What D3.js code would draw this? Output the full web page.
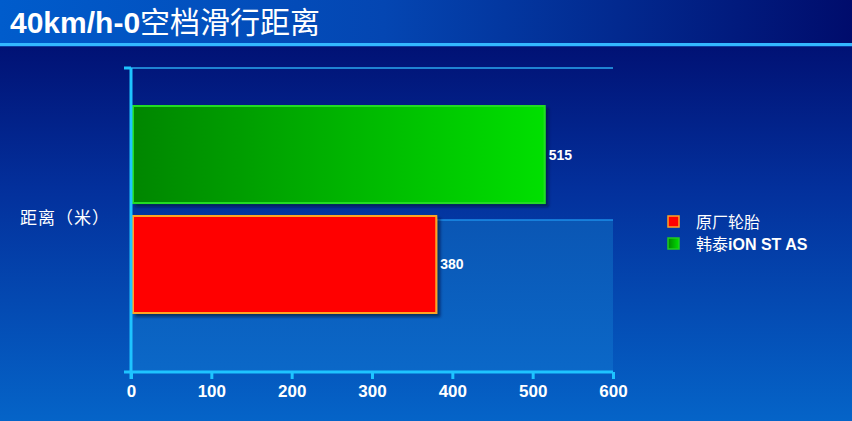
<!DOCTYPE html>
<html>
<head>
<meta charset="utf-8">
<script src="https://cdn.jsdelivr.net/npm/d3@7"></script>
<style>
  html, body { margin: 0; padding: 0; background: #000a6a; }
  svg { display: block; }
</style>
</head>
<body>
<script>
// chart data
const title = '40km/h-0'
const titleRest = '空档滑行距离'
const categories = ['距离（米）']
const seriesNames = ['韩泰iON ST AS', '原厂轮胎']
const seriesValues = [515, 380]
const xTicks = [0, 100, 200, 300, 400, 500, 600]
const legendNames = ['原厂轮胎', '韩泰']
const legendBold = ['', 'iON ST AS']

const w = 852
const h = 421
const cjk = '"Liberation Sans", "Noto Sans CJK SC", sans-serif'

const svg = d3.select('body').append('svg')
  .attr('width', w)
  .attr('height', h)

const defs = svg.append('defs')

// background gradient
const bg = defs.append('linearGradient').attr('id', 'bg')
  .attr('x1', 0).attr('y1', 0).attr('x2', 0).attr('y2', 1)
bg.append('stop').attr('offset', '0%').attr('stop-color', '#000868')
bg.append('stop').attr('offset', '45%').attr('stop-color', '#03309c')
bg.append('stop').attr('offset', '100%').attr('stop-color', '#0564c8')

// title bar gradient
const tg = defs.append('linearGradient').attr('id', 'tbar')
  .attr('x1', 0).attr('y1', 0).attr('x2', 1).attr('y2', 0)
tg.append('stop').attr('offset', '0%').attr('stop-color', '#005ccc')
tg.append('stop').attr('offset', '45%').attr('stop-color', '#0446b2')
tg.append('stop').attr('offset', '100%').attr('stop-color', '#000c6c')

// lower band of plot area
const pb = defs.append('linearGradient').attr('id', 'band')
  .attr('x1', 0).attr('y1', 0).attr('x2', 0).attr('y2', 1)
pb.append('stop').attr('offset', '0%').attr('stop-color', '#0a56b4')
pb.append('stop').attr('offset', '100%').attr('stop-color', '#0b68c8')

// green bar gradient
const gg = defs.append('linearGradient').attr('id', 'green')
  .attr('x1', 0).attr('y1', 0).attr('x2', 1).attr('y2', 0)
gg.append('stop').attr('offset', '0%').attr('stop-color', '#008600')
gg.append('stop').attr('offset', '100%').attr('stop-color', '#00e000')

const shadow = defs.append('filter').attr('id', 'shadow')
  .attr('x', '-5%').attr('y', '-5%').attr('width', '115%').attr('height', '120%')
shadow.append('feDropShadow')
  .attr('dx', 3).attr('dy', 3).attr('stdDeviation', 1.5)
  .attr('flood-color', '#000a30').attr('flood-opacity', 0.6)

svg.append('rect').attr('width', w).attr('height', h).attr('fill', 'url(#bg)')

// title bar
svg.append('rect').attr('width', w).attr('height', 43).attr('fill', 'url(#tbar)')
svg.append('rect').attr('y', 43).attr('width', w).attr('height', 3).attr('fill', '#33b8ff')
svg.append('rect').attr('y', 46).attr('width', w).attr('height', 1).attr('fill', '#0a3aa0')

const t = svg.append('text')
  .attr('x', 10).attr('y', 33)
  .attr('fill', '#ffffff')
  .style('font-family', cjk)
  .style('font-size', '30px')
t.append('tspan').attr('font-weight', 'bold').text(title)
t.append('tspan').text(titleRest)

// scales
const x = d3.scaleLinear()
  .domain([xTicks[0], xTicks[xTicks.length - 1]])
  .range([131, 613])

const yCat = d3.scaleBand()
  .domain(categories)
  .range([68, 372])

const ySeries = d3.scaleBand()
  .domain(seriesNames)
  .range([106, 313])
  .paddingInner(0.118)

const plotTop = yCat.range()[0]
const plotBottom = yCat.range()[1]
const plotMid = (plotTop + plotBottom) / 2

// plot area lower band and gridlines
svg.append('rect')
  .attr('x', x(0)).attr('y', plotMid)
  .attr('width', x(600) - x(0)).attr('height', plotBottom - plotMid)
  .attr('fill', 'url(#band)')

svg.selectAll('.grid')
  .data([plotTop, plotMid])
  .enter()
  .append('line')
  .attr('x1', x(0)).attr('x2', x(600))
  .attr('y1', d => d).attr('y2', d => d)
  .attr('stroke', (d, i) => i === 0 ? '#2aa8f0' : '#1c8ee8')
  .attr('stroke-width', 1.5)

// bars
const colors = ['url(#green)', '#ff0000']
const borders = ['#22dc22', '#ffa424']

svg.selectAll('.bar')
  .data(seriesValues)
  .enter()
  .append('rect')
  .attr('class', 'bar')
  .attr('x', x(0) + 2)
  .attr('y', (d, i) => ySeries(seriesNames[i]))
  .attr('width', d => x(d) - x(0) - 2)
  .attr('height', ySeries.bandwidth())
  .attr('fill', (d, i) => colors[i])
  .attr('stroke', (d, i) => borders[i])
  .attr('stroke-width', 2)
  .attr('filter', 'url(#shadow)')

svg.selectAll('.lbl')
  .data(seriesValues)
  .enter()
  .append('text')
  .attr('x', d => x(d) + 4)
  .attr('y', (d, i) => ySeries(seriesNames[i]) + ySeries.bandwidth() / 2 + 5)
  .attr('fill', '#ffffff')
  .style('font-family', '"Liberation Sans", Arial, sans-serif')
  .style('font-weight', 'bold')
  .style('font-size', '14px')
  .text(d => d)

// axes
const axisColor = '#1ec4ff'

svg.append('line')
  .attr('x1', x(0)).attr('x2', x(0))
  .attr('y1', plotTop).attr('y2', plotBottom + 7)
  .attr('stroke', axisColor).attr('stroke-width', 3)
svg.append('line')
  .attr('x1', x(0) - 7).attr('x2', x(0))
  .attr('y1', plotTop).attr('y2', plotTop)
  .attr('stroke', axisColor).attr('stroke-width', 3)

const xAxis = svg.append('g')
  .attr('transform', `translate(0,${plotBottom})`)
  .call(d3.axisBottom(x).tickValues(xTicks).tickSize(7).tickPadding(6).tickSizeOuter(0))

xAxis.select('.domain')
  .attr('d', `M${x(0) - 7},0H${x(600)}`)
  .attr('stroke', axisColor).attr('stroke-width', 3)
xAxis.selectAll('.tick line')
  .attr('stroke', axisColor).attr('stroke-width', 3)
xAxis.selectAll('.tick text')
  .attr('fill', '#ffffff')
  .style('font-family', '"Liberation Sans", Arial, sans-serif')
  .style('font-weight', 'bold')
  .style('font-size', '17px')

// category label
svg.selectAll('.cat')
  .data(categories)
  .enter()
  .append('text')
  .attr('x', 20)
  .attr('y', yCat(categories[0]) + yCat.bandwidth() / 2 + 4)
  .attr('fill', '#ffffff')
  .style('font-family', cjk)
  .style('font-size', '17px')
  .style('letter-spacing', '1px')
  .text(d => d)

// legend
const legendFill = ['#ff0000', 'url(#green)']
const legendStroke = ['#ffa424', '#22cc22']
const legend = svg.selectAll('.leg')
  .data(legendNames)
  .enter()
  .append('g')
  .attr('transform', (d, i) => `translate(668,${216 + i * 22})`)

legend.append('rect')
  .attr('width', 11).attr('height', 11)
  .attr('fill', (d, i) => legendFill[i])
  .attr('stroke', (d, i) => legendStroke[i])
  .attr('stroke-width', 1.5)

const lt = legend.append('text')
  .attr('x', 28).attr('y', 12)
  .attr('fill', '#ffffff')
  .style('font-family', cjk)
  .style('font-size', '16px')
lt.append('tspan').text(d => d)
lt.append('tspan').attr('font-weight', 'bold').text((d, i) => legendBold[i])
</script>
</body>
</html>
